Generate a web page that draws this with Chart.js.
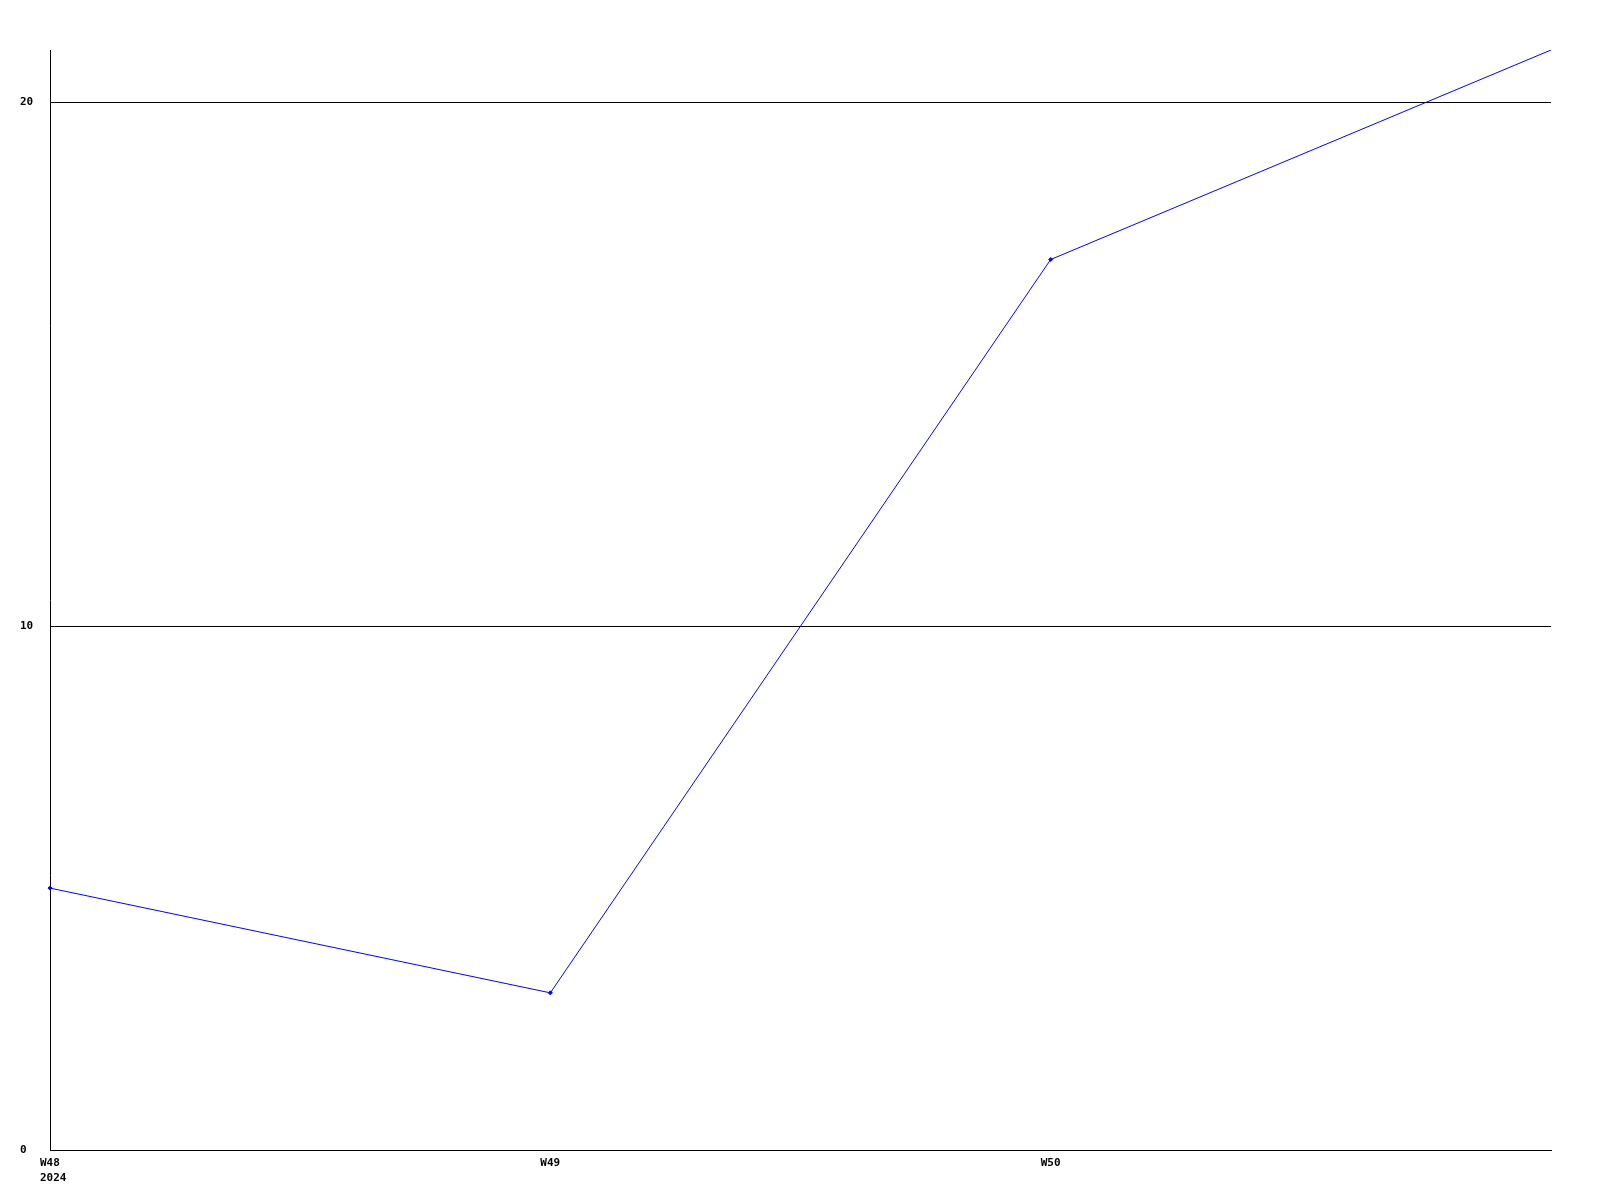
<!DOCTYPE html>
<html>
<head>
<meta charset="utf-8">
<style>
  html, body { margin: 0; padding: 0; background: #fff; }
  #chart { display: block; }
</style>
<script src="https://cdn.jsdelivr.net/npm/chart.js@4"></script>
</head>
<body>
<canvas id="chart" width="1600" height="1200"></canvas>
<script>
const weeks = ['W48', 'W49', 'W50', 'W51'];
const years = ['2024', '', '', ''];
const values = [5, 3, 17, 21];
const yTicks = [0, 10, 20];

const font = { family: '"DejaVu Sans Mono", "Liberation Mono", monospace', size: 11, weight: 'bold', lineHeight: 1.4 };

new Chart(document.getElementById('chart'), {
  type: 'line',
  data: {
    labels: weeks,
    datasets: [{
      data: values,
      borderColor: '#0000ff',
      backgroundColor: '#0000ff',
      borderWidth: 1,
      // last point sits on the chart edge and has no marker in the original
      pointRadius: ctx => ctx.dataIndex === values.length - 1 ? 0 : 2,
      pointStyle: 'rectRot',
      tension: 0,
      fill: false,
    }],
  },
  options: {
    responsive: false,
    animation: false,
    layout: { padding: { top: 50, right: 49, left: 20, bottom: 0 } },
    plugins: { legend: { display: false }, tooltip: { enabled: false } },
    scales: {
      x: {
        type: 'category',
        offset: false,
        grid: { display: false, drawTicks: false },
        border: { display: true, color: '#000', width: 1 },
        afterFit: s => { s.height = 50; },
        ticks: {
          font, color: '#000',
          autoSkip: false, maxRotation: 0,
          align: 'start', labelOffset: -10, padding: 5,
          callback: (v, i) => i === weeks.length - 1 ? '' : (years[i] ? [weeks[i], years[i]] : weeks[i]),
        },
      },
      y: {
        min: 0, max: 21,
        grid: { color: '#000', lineWidth: 1, drawTicks: false },
        border: { display: true, color: '#000', width: 1 },
        afterFit: s => { s.width = 30; },
        afterBuildTicks: s => { s.ticks = yTicks.map(v => ({ value: v })); },
        ticks: { font: { ...font, lineHeight: 1.2 }, color: '#000', crossAlign: 'far', padding: 0 },
      },
    },
  },
});
</script>
</body>
</html>
